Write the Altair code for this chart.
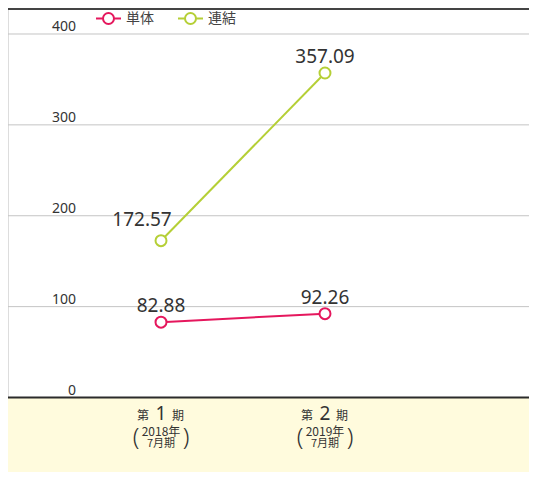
import altair as alt
import pandas as pd

# ---- data ----
periods = [1, 2]
period_nums = ["1", "2"]
period_years = ["2018年", "2019年"]
period_months = ["7月期", "7月期"]
series_names = ["単体", "連結"]
tantai_values = [82.88, 92.26]
renketsu_values = [172.57, 357.09]
y_ticks = [0, 100, 200, 300, 400]

PINK = "#e5175d"
GREEN = "#b5cf36"
TEXT = "#333333"
NUM_FONT = "Noto Sans"
JP_FONT = "Noto Sans CJK JP"

W, H = 521, 464

rows = []
for i, p in enumerate(periods):
    rows.append({"period": p, "series": series_names[0], "value": tantai_values[i],
                 "label": f"{tantai_values[i]:.2f}"})
for i, p in enumerate(periods):
    rows.append({"period": p, "series": series_names[1], "value": renketsu_values[i],
                 "label": f"{renketsu_values[i]:.2f}"})
df = pd.DataFrame(rows)

cat_df = pd.DataFrame({"period": periods, "num": period_nums,
                       "year": period_years, "month": period_months})
tick_df = pd.DataFrame({"tick": y_ticks, "tick_label": [str(t) for t in y_ticks]})

xscale = alt.Scale(domain=[0.067, 3.244], nice=False, zero=False)
yscale = alt.Scale(domain=[-81.98, 428.61], nice=False, zero=False)

X = alt.X("period:Q", scale=xscale, axis=None)
Y = alt.Y("value:Q", scale=yscale, axis=None)
YT = alt.Y("tick:Q", scale=yscale, axis=None)

color = alt.Color("series:N",
                  scale=alt.Scale(domain=series_names, range=[PINK, GREEN]),
                  legend=alt.Legend(title=None, orient="none", legendX=87, legendY=-3,
                                    direction="horizontal",
                                    symbolType="M-1,0L-0.44,0M0.44,0L1,0M-0.44,0A0.44,0.44,0,1,1,0.44,0A0.44,0.44,0,1,1,-0.44,0Z",
                                    symbolSize=625, symbolStrokeWidth=2,
                                    symbolFillColor="white",
                                    labelFont=JP_FONT, labelFontSize=14, labelColor="#444444",
                                    labelOffset=4, columnPadding=20))

ticks = alt.Chart(tick_df)

band = ticks.mark_rect(color="#fffbdd", strokeWidth=0).encode(
    x=alt.value(0), x2=alt.value(W), y=YT, y2=alt.value(H)
).transform_filter("datum.tick == 0")

grid = ticks.mark_rule(color="#c4c4c4", strokeWidth=1).encode(
    x=alt.value(0), x2=alt.value(W), y=YT
).transform_filter("datum.tick != 0")

zero_rule = ticks.mark_rule(color="#2b2b2b", strokeWidth=2).encode(
    x=alt.value(0), x2=alt.value(W), y=YT
).transform_filter("datum.tick == 0")

top_rule = ticks.mark_rule(color="#444444", strokeWidth=2).encode(
    x=alt.value(0), x2=alt.value(W), y=alt.value(1)
).transform_filter("datum.tick == 0")

tick_labels = ticks.mark_text(font=NUM_FONT, fontSize=14, color=TEXT, align="right",
                              baseline="alphabetic", dy=-3).encode(
    x=alt.value(68), y=YT, text="tick_label:N")

base = alt.Chart(df)
lines = base.mark_line(strokeWidth=2).encode(x=X, y=Y, color=color, order="period:Q")
points = base.mark_point(filled=False, fill="white", fillOpacity=1, opacity=1,
                         size=120, strokeWidth=2, shape="circle").encode(
    x=X, y=Y, color=color)

labels_main = base.mark_text(fontSize=19, font=NUM_FONT, color=TEXT, dy=-10,
                             baseline="alphabetic").encode(
    x=X, y=Y, text="label:N").transform_filter(
    "!(datum.series == '連結' && datum.period == 1)")
labels_shift = base.mark_text(fontSize=19, font=NUM_FONT, color=TEXT, dy=-15, dx=-19,
                              baseline="alphabetic").encode(
    x=X, y=Y, text="label:N").transform_filter(
    "datum.series == '連結' && datum.period == 1")

cat = alt.Chart(cat_df)
Xc = alt.X("period:Q", scale=xscale, axis=None)
t_dai = cat.mark_text(text="第", font=JP_FONT, fontSize=12, color=TEXT, align="right",
                      dx=-12, baseline="alphabetic").encode(x=Xc, y=alt.value(412))
t_num = cat.mark_text(font=NUM_FONT, fontSize=19, color=TEXT, align="center",
                      baseline="alphabetic").encode(x=Xc, y=alt.value(412), text="num:N")
t_ki = cat.mark_text(text="期", font=JP_FONT, fontSize=12, color=TEXT, align="left",
                     dx=11, baseline="alphabetic").encode(x=Xc, y=alt.value(412))
t_year = cat.mark_text(font=JP_FONT, fontSize=12, color=TEXT, align="center",
                       baseline="alphabetic").encode(x=Xc, y=alt.value(428), text="year:N")
t_month = cat.mark_text(font=JP_FONT, fontSize=11, color=TEXT, align="center",
                        baseline="alphabetic").encode(x=Xc, y=alt.value(439), text="month:N")
t_lp = cat.mark_text(text="(", font=NUM_FONT, fontSize=24, fontWeight=300, color=TEXT,
                     align="center", dx=-25, baseline="middle").encode(x=Xc, y=alt.value(430))
t_rp = cat.mark_text(text=")", font=NUM_FONT, fontSize=24, fontWeight=300, color=TEXT,
                     align="center", dx=25, baseline="middle").encode(x=Xc, y=alt.value(430))

chart = alt.layer(
    band, grid, zero_rule, top_rule, tick_labels, lines, points, labels_main, labels_shift,
    t_dai, t_num, t_ki, t_year, t_month, t_lp, t_rp
).properties(
    width=W, height=H, padding=0, autosize=alt.AutoSizeParams(type="none")
).configure_view(strokeWidth=0).configure(background="white")

chart.save("out.html", embed_options={"renderer": "svg", "actions": False})
